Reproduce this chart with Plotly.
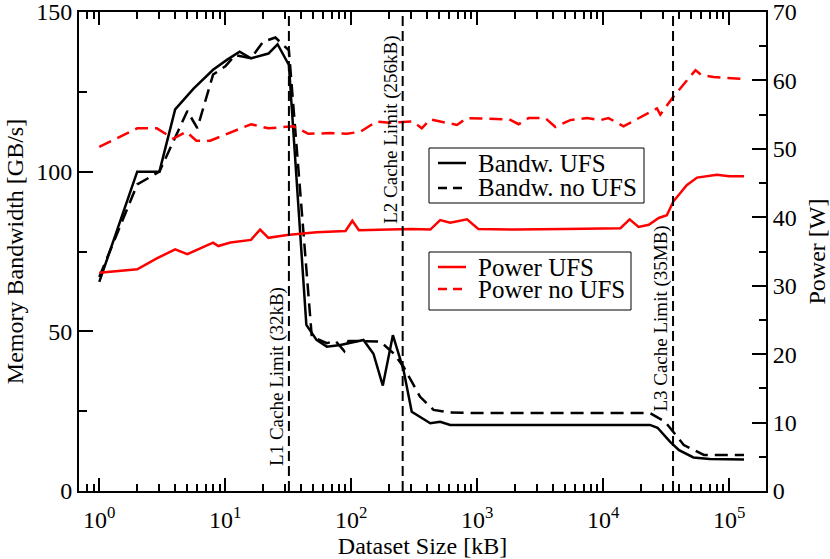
import math
import plotly.graph_objects as go

# ---- data ----
bw_ufs_x = [1, 2, 3, 4, 5.6, 8, 10.3, 13, 16, 22, 26, 32, 44, 53, 64, 82, 125, 150, 178, 214, 260,
            302, 424, 508, 610, 1000, 2000, 5000, 10000, 23500, 27000, 30000, 34000, 40000, 52000,
            70000, 131072]
bw_ufs_y = [65.5, 100, 100, 119.5, 126, 131.9, 135, 137.6, 135.5, 137, 139.9, 133.4, 52, 47.3, 45.2,
            45.7, 47.3, 43, 33, 48.8, 37.9, 24.8, 21.2, 21.7, 20.7, 20.7, 20.8, 20.7, 20.7, 20.7,
            19.8, 17.8, 15.4, 12.8, 10.5, 10.0, 9.9]

bw_noufs_x = [1, 2, 3, 5, 6, 8, 10, 12, 16, 20, 25, 32, 48.6, 64, 75, 88, 95, 170, 217, 260, 352,
              450, 610, 1000, 5000, 10000, 23500, 31000, 43600, 63000, 131072]
bw_noufs_y = [67, 96, 100, 119, 113.6, 130.4, 133, 136.5, 135.5, 140.7, 142, 138, 48.3, 46.3, 47,
              43.8, 47, 46.8, 43.1, 38.9, 29.5, 25.4, 24.6, 24.4, 24.4, 24.4, 24.4, 21.7, 14.4,
              11.3, 11.3]

pw_ufs_x = [1, 2, 2.86, 4, 5, 8, 8.8, 11, 16, 18.9, 22, 31, 53, 90, 102, 115, 200, 300, 424, 508,
            610, 830, 1020, 2000, 5000, 13700, 16200, 19100, 23000, 27600, 32000, 36000, 46000,
            55600, 80000, 100000, 131072]
pw_ufs_y = [31.9, 32.4, 34, 35.3, 34.6, 36.3, 35.8, 36.3, 36.7, 38.2, 37, 37.4, 37.8, 38, 39.5,
            38.1, 38.2, 38.3, 38.2, 39.6, 39.2, 39.7, 38.3, 38.2, 38.3, 38.4, 39.7, 38.6, 38.9,
            39.9, 40.3, 42.3, 44.7, 45.8, 46.2, 46, 46]

pw_noufs_x = [1, 2, 2.86, 3.87, 4.9, 5.9, 7.6, 10.6, 16, 22, 34.8, 45.6, 68, 92, 118, 159, 202,
              310, 363, 424, 690, 830, 1800, 2130, 2560, 3470, 4170, 5470, 7440, 9500, 11000,
              14500, 17500, 26700, 28400, 36000, 54000, 60000, 75000, 100000, 131072]
pw_noufs_y = [50.3, 53, 53, 51.5, 52.5, 51.2, 51.2, 52.3, 53.6, 53, 53.3, 52.2, 52.3, 52.2, 52.5,
              54, 53.8, 54, 53, 54.3, 53.5, 54.5, 54.3, 53.6, 54.5, 54.5, 53.2, 54.2, 54.5, 54.2,
              54.5, 53.3, 54.1, 55.9, 55, 57.6, 61.5, 60.8, 60.5, 60.3, 60.2]

cache_limits_kb = [32, 256, 35840]
cache_labels = ["L1 Cache Limit (32kB)", "L2 Cache Limit (256kB)", "L3 Cache Limit (35MB)"]
cache_label_y = [36, 113, 54]

x_tickvals = [1, 10, 100, 1000, 10000, 100000]
x_ticktext = ["10<sup>0</sup>", "10<sup>1</sup>", "10<sup>2</sup>", "10<sup>3</sup>",
              "10<sup>4</sup>", "10<sup>5</sup>"]

series_names = ["Bandw. UFS", "Bandw. no UFS", "Power UFS", "Power no UFS"]
series_colors = ["black", "black", "#ff0000", "#ff0000"]
series_dash = ["solid", "13px,7px", "solid", "13px,7px"]

FONT = "Liberation Serif, Times New Roman, serif"

fig = go.Figure()
series = [(bw_ufs_x, bw_ufs_y, "y"), (bw_noufs_x, bw_noufs_y, "y"),
          (pw_ufs_x, pw_ufs_y, "y2"), (pw_noufs_x, pw_noufs_y, "y2")]
for (sx, sy, ax), nm, col, ds in zip(series, series_names, series_colors, series_dash):
    fig.add_trace(go.Scatter(x=sx, y=sy, mode="lines", name=nm, yaxis=ax, showlegend=False,
                             line=dict(color=col, width=2.5, dash=ds)))

for xv, lab, ly in zip(cache_limits_kb, cache_labels, cache_label_y):
    fig.add_shape(type="line", xref="x", yref="paper", x0=xv, x1=xv, y0=0, y1=1,
                  line=dict(color="black", width=2, dash="10px,5px"))
    fig.add_annotation(x=math.log10(xv), y=ly, xref="x", yref="y", text=lab, textangle=-90,
                       showarrow=False, xshift=-12, font=dict(family=FONT, size=19, color="black"))

# ---- legends (two boxed legends, drawn in paper coordinates) ----
PL, PR, PT, PB = 79.0, 766.0, 12.0, 491.0   # plot area in pixels
def px(X):
    return (X - PL) / (PR - PL)
def py(Y):
    return (PB - Y) / (PB - PT)

legend_boxes = [(429, 148, 644, 203), (429, 252, 631, 310)]
legend_rows = [[163, 188], [267, 289]]
for bi, ((x0, y0, x1, y1), rows) in enumerate(zip(legend_boxes, legend_rows)):
    fig.add_shape(type="rect", xref="paper", yref="paper", x0=px(x0), x1=px(x1), y0=py(y1), y1=py(y0),
                  line=dict(color="black", width=1), fillcolor="white", layer="above")
    for ri, ry in enumerate(rows):
        k = bi * 2 + ri
        fig.add_shape(type="line", xref="paper", yref="paper", x0=px(438), x1=px(466), y0=py(ry), y1=py(ry),
                      line=dict(color=series_colors[k], width=2.5,
                                dash="solid" if series_dash[k] == "solid" else "9px,6px"),
                      layer="above")
        fig.add_annotation(xref="paper", yref="paper", x=px(476), y=py(ry), text=series_names[k],
                           xanchor="left", yanchor="middle", showarrow=False,
                           font=dict(family=FONT, size=25, color="black"))

axis_common = dict(showline=True, linecolor="black", linewidth=2, ticks="inside",
                   tickcolor="black", tickwidth=1.5, showgrid=False, zeroline=False,
                   automargin=False, ticklabeloverflow="allow",
                   tickfont=dict(family=FONT, size=24, color="black"))

minor_x = []
for d in range(-1, 6):
    for m in range(2, 10):
        v = m * 10 ** d
        if 0.69 <= v <= 1.96e5:
            minor_x.append(v)

fig.update_layout(
    width=830, height=559,
    margin=dict(l=79, r=64, t=12, b=68),
    paper_bgcolor="white", plot_bgcolor="white",
    font=dict(family=FONT, size=24, color="black"),
    showlegend=False,
    xaxis=dict(type="log", range=[math.log10(0.69), math.log10(1.96e5)],
               tickvals=x_tickvals, ticktext=x_ticktext, ticklen=13, mirror="ticks",
               ticklabelstandoff=6,
               minor=dict(tickvals=minor_x, ticks="inside", ticklen=7, tickcolor="black",
                          tickwidth=1.5, showgrid=False),
               title=dict(text="Dataset Size [kB]", font=dict(family=FONT, size=24), standoff=4),
               **axis_common),
    yaxis=dict(range=[0, 150], tickvals=[0, 50, 100, 150], ticklen=14,
               minor=dict(tickvals=[25, 75, 125], ticks="inside", ticklen=8, tickcolor="black",
                          tickwidth=1.5, showgrid=False),
               title=dict(text="Memory Bandwidth [GB/s]", font=dict(family=FONT, size=24), standoff=6),
               **axis_common),
    yaxis2=dict(range=[0, 70], tickvals=[0, 10, 20, 30, 40, 50, 60, 70], ticklen=14,
                overlaying="y", side="right",
                minor=dict(tickvals=[5, 15, 25, 35, 45, 55, 65], ticks="inside", ticklen=7,
                           tickcolor="black", tickwidth=1.5, showgrid=False),
                title=dict(text="Power [W]", font=dict(family=FONT, size=24), standoff=14),
                **axis_common),
)

fig.write_html("out.html", config={"displayModeBar": False},
               post_script="document.body.style.margin='0';")
